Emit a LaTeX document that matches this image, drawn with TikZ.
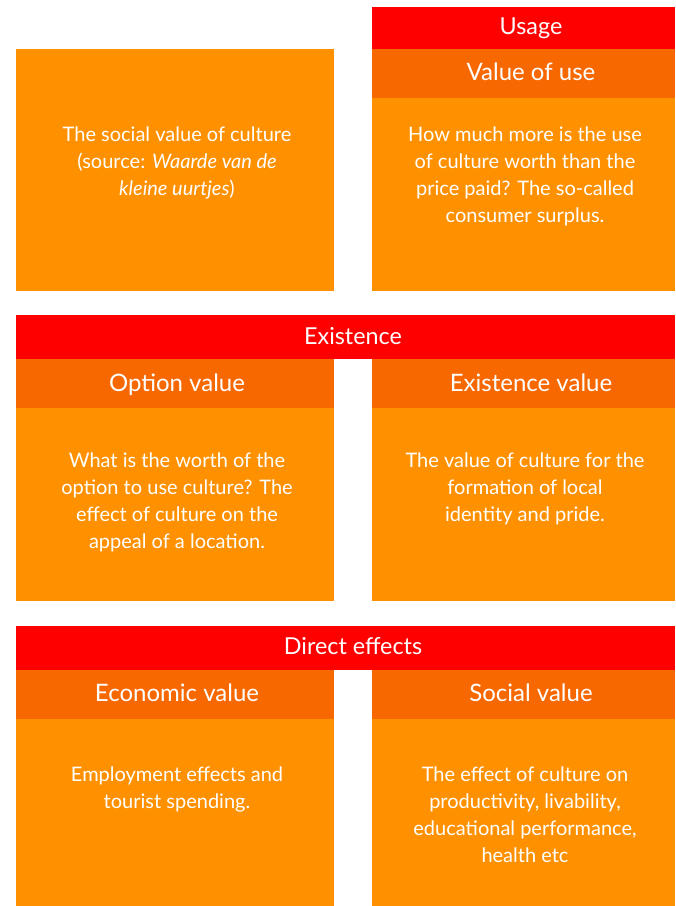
\documentclass[tikz,border=0pt]{standalone}
\usepackage{fontspec}
\setmainfont{Lato}
\definecolor{grouped}{HTML}{FF0000}
\definecolor{headed}{HTML}{F76800}
\definecolor{bodied}{HTML}{FF9100}
\tikzset{group/.style={fill=grouped}}
\tikzset{head/.style={fill=headed}}
\tikzset{body/.style={fill=bodied}}
\tikzset{grouptext/.style={text=white, font=\fontsize{17.5}{20}\selectfont, text height=1.1em, text depth=.3em}}
\tikzset{headtext/.style={text=white, font=\fontsize{18}{20}\selectfont, text height=1.1em, text depth=.3em}}
\tikzset{bodytext/.style={text=white, font=\fontsize{15}{20.25}\selectfont, align=center, anchor=north, inner sep=0pt}}

\begin{document}
\begin{tikzpicture}[x=0.75pt, y=-0.75pt]
		\useasboundingbox (0,0) rectangle (675,906);

		% Top row
		\fill[body] (16,49) rectangle (334,291);
		\fill[group] (372,7) rectangle (675,49);
		\fill[head] (372,49) rectangle (675,98);
		\fill[body] (372,98) rectangle (675,291);
		\node[grouptext] (usage) at (531,29) {Usage};
		\node[headtext] (use) at (531,75) {Value of use};
		\node[bodytext] (source) at (177,127) {The social value of culture\\(source: \textit{Waarde van de}\\\textit{kleine uurtjes})};
		\node[bodytext] (usetxt) at (525,127) {How much more is the use\\of culture worth than the\\price paid? The so-called\\consumer surplus.};

		% Middle row
		\fill[group] (16,315) rectangle (675,359);
		\fill[head] (16,359) rectangle (334,408);
		\fill[body] (16,408) rectangle (334,601);
		\fill[head] (372,359) rectangle (675,408);
		\fill[body] (372,408) rectangle (675,601);
		\node[grouptext] (existence) at (353,339) {Existence};
		\node[headtext] (option) at (177,386) {Option value};
		\node[headtext] (exist) at (531,386) {Existence value};
		\node[bodytext] (optiontxt) at (177,452) {What is the worth of the\\option to use culture? The\\effect of culture on the\\appeal of a location.};
		\node[bodytext] (existtxt) at (525,452) {The value of culture for the\\formation of local\\identity and pride.};

		% Bottom row
		\fill[group] (16,626) rectangle (675,670);
		\fill[head] (16,670) rectangle (334,719);
		\fill[body] (16,719) rectangle (334,906);
		\fill[head] (372,670) rectangle (675,719);
		\fill[body] (372,719) rectangle (675,906);
		\node[grouptext] (direct) at (353,649) {Direct effects};
		\node[headtext] (economic) at (177,696) {Economic value};
		\node[headtext] (social) at (531,696) {Social value};
		\node[bodytext] (economictxt) at (177,766) {Employment effects and\\tourist spending.};
		\node[bodytext] (socialtxt) at (525,766) {The effect of culture on\\productivity, livability,\\educational performance,\\health etc};
	\end{tikzpicture}
\end{document}
